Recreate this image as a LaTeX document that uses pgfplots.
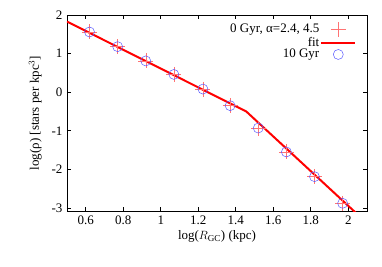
\documentclass[border=0pt]{standalone}
\usepackage{pgfplots}
\pgfplotsset{compat=1.18}
\usepackage{fontspec}
\setmainfont{Liberation Serif}
\pgfplotsset{
  longmarklegend/.style={legend image code/.code={\draw[##1,mark repeat=2,mark phase=2] plot coordinates {(0cm,0cm)(17bp,0cm)(34bp,0cm)};}},
  longlinelegend/.style={legend image code/.code={\draw[##1] (0cm,0cm) -- (34bp,0cm);}},
}
\begin{document}
\fontsize{13bp}{15.5bp}\selectfont
\begin{tikzpicture}[font=\fontsize{13bp}{15.5bp}\selectfont]
\begin{axis}[
  scale only axis,
  width=300bp, height=196bp,
  xmin=0.5, xmax=2.1, ymin=-3.08, ymax=2,
  xtick={0.6,0.8,1,1.2,1.4,1.6,1.8,2},
  ytick={-3,-2,-1,0,1,2},
  xticklabels={0.6,0.8,1,1.2,1.4,1.6,1.8,2},
  yticklabels={-3,-2,-1,0,1,2},
  tick label style={font=\fontsize{13bp}{15.5bp}\selectfont},
  label style={font=\fontsize{13bp}{15.5bp}\selectfont},
  tick align=inside,
  major tick length=4bp,
  tick style={black, line width=0.6pt},
  axis line style={line width=0.8pt},
  xlabel={log($R_{\mathrm{GC}}$) (kpc)},
  ylabel={log(ρ) [stars per kpc$^{3}$]},
  xlabel style={yshift=3bp},
  ylabel style={yshift=1bp},
  legend style={draw=none, fill=none, inner sep=0pt, at={(0.965,0.965)}, anchor=north east,
    font=\fontsize{13bp}{15.5bp}\selectfont, row sep=-1bp, nodes={inner sep=1bp}},
  legend cell align=right,
  legend plot pos=right,
  clip=true,
]
\addplot[only marks, mark=+, mark size=7.5bp, draw=red!55, mark options={draw=red!55, line width=0.5pt}, longmarklegend]
coordinates {
(0.62,1.56) (0.77,1.18) (0.92,0.81) (1.07,0.46) (1.225,0.08)
(1.37,-0.35) (1.52,-0.93) (1.67,-1.55) (1.82,-2.19) (1.97,-2.88)
};
\addlegendentry{0 Gyr, α=2.4, 4.5}
\addplot[red, line width=2pt, longlinelegend]
coordinates {(0.5,1.83) (1.456,-0.50) (2.05,-3.17)};
\addlegendentry{fit}
\addplot[only marks, mark=o, mark size=5bp, draw=blue!65, mark options={draw=blue!65, line width=0.5pt}, longmarklegend]
coordinates {
(0.62,1.56) (0.77,1.18) (0.92,0.81) (1.07,0.46) (1.225,0.08)
(1.37,-0.35) (1.52,-0.93) (1.67,-1.55) (1.82,-2.19) (1.97,-2.88)
};
\addlegendentry{10 Gyr}
\end{axis}
\pgfresetboundingbox
\path ([xshift=-67bp,yshift=-56bp]current axis.south west) rectangle ([xshift=15bp,yshift=15bp]current axis.north east);
\end{tikzpicture}
\end{document}
